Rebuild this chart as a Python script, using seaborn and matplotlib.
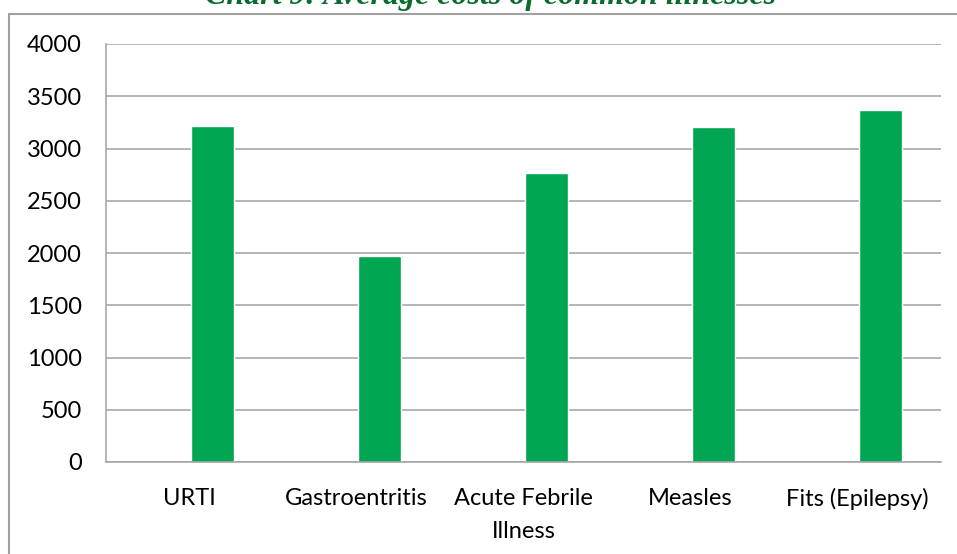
import numpy as np
import pandas as pd
import seaborn as sns
import matplotlib.pyplot as plt
from matplotlib.patches import Rectangle


# chart data
illnesses = ['URTI', 'Gastroentritis', 'Acute Febrile\nIllness', 'Measles', 'Fits (Epilepsy)']
avg_costs = [3215, 1970, 2765, 3205, 3368]
y_ticks = [0, 500, 1000, 1500, 2000, 2500, 3000, 3500, 4000]
title = 'Chart 9: Average costs of common illnesses'

grey = '#A0A0A0'
green = '#00A651'

sns.set_style('white')
plt.rcParams['font.family'] = ['Lato', 'DejaVu Sans']

df = pd.DataFrame({'illness': illnesses, 'cost': avg_costs, 'series': 'cost'})

fig = plt.figure(figsize=(9.57, 5.54), dpi=100)
ax = fig.add_axes([106 / 957, 1 - 462 / 554, 835 / 957, 418 / 554])

# empty first series keeps the bars on the right half of each slot (like the excel original)
sns.barplot(data=df, x='illness', y='cost', hue='series', hue_order=['blank', 'cost'],
            palette={'blank': green, 'cost': green}, width=0.55, gap=0.06,
            dodge=True, legend=False, ax=ax, saturation=1)

ax.set_xlim(-0.5, len(illnesses) - 0.5)
ax.set_ylim(0, 4000)
ax.set_yticks(y_ticks)
ax.set_xlabel('')
ax.set_ylabel('')

ax.yaxis.grid(True, color=grey, linewidth=1.1)
ax.set_axisbelow(True)
for s in ['top', 'right']:
    ax.spines[s].set_visible(False)
for s in ['left', 'bottom']:
    ax.spines[s].set_color(grey)
    ax.spines[s].set_linewidth(1.1)

ax.tick_params(axis='y', length=6.5, width=1.1, color=grey, pad=11, labelsize=17, labelcolor='black')
ax.set_xticks(np.arange(-0.5, len(illnesses), 1.0), minor=True)
ax.tick_params(axis='x', which='minor', length=6.5, width=1.1, color=grey)
ax.tick_params(axis='x', which='major', length=0, pad=19, labelsize=17, labelcolor='black')
for lbl in ax.get_xticklabels():
    lbl.set_linespacing(1.7)

# outer chart border, only top and left edges show inside the crop
fig.add_artist(Rectangle((9 / 957, -0.1), 1.2, 1 - 14 / 554 + 0.1, transform=fig.transFigure,
                         fill=False, edgecolor=grey, linewidth=1.5))

fig.text(491 / 957, 1 - 4 / 554, title, ha='center', va='baseline', fontsize=23,
         family='Liberation Serif', fontweight='bold', fontstyle='italic', color='#0B6B2E')

plt.savefig('out.png', dpi=100)
